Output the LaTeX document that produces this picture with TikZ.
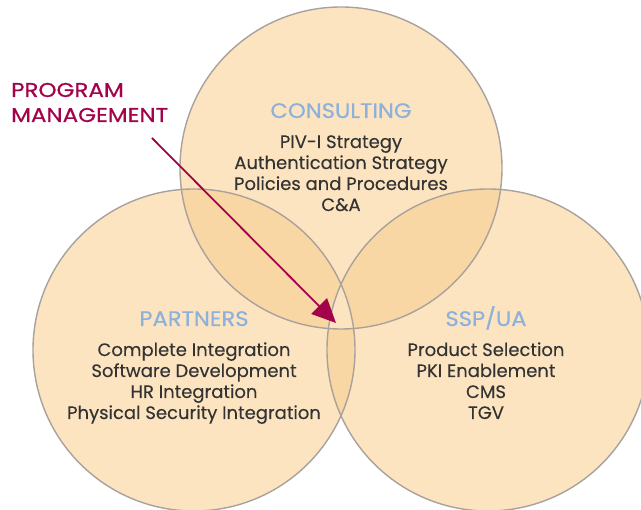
\documentclass[tikz,border=0pt]{standalone}
\usepackage{fontspec}
\setmainfont{Poppins}
\newfontfamily\headfont[FakeStretch=1.08, FakeBold=0.6]{Poppins}
\newfontfamily\pmfont[FakeStretch=1.15, FakeBold=0.6]{Poppins}
\newfontfamily\bodyfont[FakeBold=0.2]{Poppins}
\usetikzlibrary{arrows.meta}
\definecolor{lightfill}{HTML}{FCE4C1}
\definecolor{darkfill}{HTML}{F9D7A5}
\definecolor{ringgrey}{HTML}{A9A29C}
\definecolor{headblue}{HTML}{8EB1DC}
\definecolor{bodygrey}{HTML}{333333}
\definecolor{pmred}{HTML}{A3034A}
\tikzset{
  head/.style={text=headblue, font=\headfont\fontsize{21}{24}\selectfont, inner sep=0pt, anchor=base},
  body/.style={text=bodygrey, font=\bodyfont\fontsize{18}{21}\selectfont, inner sep=0pt, anchor=base},
  pm/.style={text=pmred, font=\pmfont\fontsize{20}{24}\selectfont, inner sep=0pt, anchor=base west},
  ring/.style={draw=ringgrey, line width=1.4pt},
  pmarrow/.style={draw=pmred, line width=1.8pt, -{Triangle[length=24pt, width=22pt]}}
}
\begin{document}
\begin{tikzpicture}[x=1pt, y=-1pt]
\useasboundingbox (0,0) rectangle (641,510);
\clip (0,0) rectangle (641,510);
\def\R{161}
\coordinate (ct) at (341,168);
\coordinate (cl) at (194,350);
\coordinate (cr) at (488,350);
% base fills
\fill[lightfill] (ct) circle (\R);
\fill[lightfill] (cl) circle (\R);
\fill[lightfill] (cr) circle (\R);
% pairwise overlaps
\begin{scope}\clip (ct) circle (\R); \fill[darkfill] (cl) circle (\R); \end{scope}
\begin{scope}\clip (ct) circle (\R); \fill[darkfill] (cr) circle (\R); \end{scope}
\begin{scope}\clip (cl) circle (\R); \fill[darkfill] (cr) circle (\R); \end{scope}
% triple overlap back to light
\begin{scope}\clip (ct) circle (\R); \clip (cl) circle (\R); \fill[lightfill] (cr) circle (\R); \end{scope}
% outlines
\draw[ring] (ct) circle (\R);
\draw[ring] (cl) circle (\R);
\draw[ring] (cr) circle (\R);
% consulting
\node[head] (hc) at (341,118) {CONSULTING};
\node[body] (c1) at (341,148) {PIV-I Strategy};
\node[body] (c2) at (341,169) {Authentication Strategy};
\node[body] (c3) at (341,190) {Policies and Procedures};
\node[body] (c4) at (341,211) {C\&A};
% partners
\node[head] (hp) at (194,326) {PARTNERS};
\node[body] (p1) at (194,356) {Complete Integration};
\node[body] (p2) at (194,377) {Software Development};
\node[body] (p3) at (194,398) {HR Integration};
\node[body] (p4) at (194,419) {Physical Security Integration};
% ssp/ua
\node[head] (hs) at (486,326) {SSP/UA};
\node[body] (s1) at (486,356) {Product Selection};
\node[body] (s2) at (486,377) {PKI Enablement};
\node[body] (s3) at (486,398) {CMS};
\node[body] (s4) at (486,419) {TGV};
% program management
\node[pm] (pm1) at (11,97) {PROGRAM};
\node[pm] (pm2) at (11,122) {MANAGEMENT};
\coordinate (pmstart) at (152,138);
\coordinate (pmtip) at (336,323);
\draw[pmarrow] (pmstart) -- (pmtip);
\end{tikzpicture}
\end{document}
